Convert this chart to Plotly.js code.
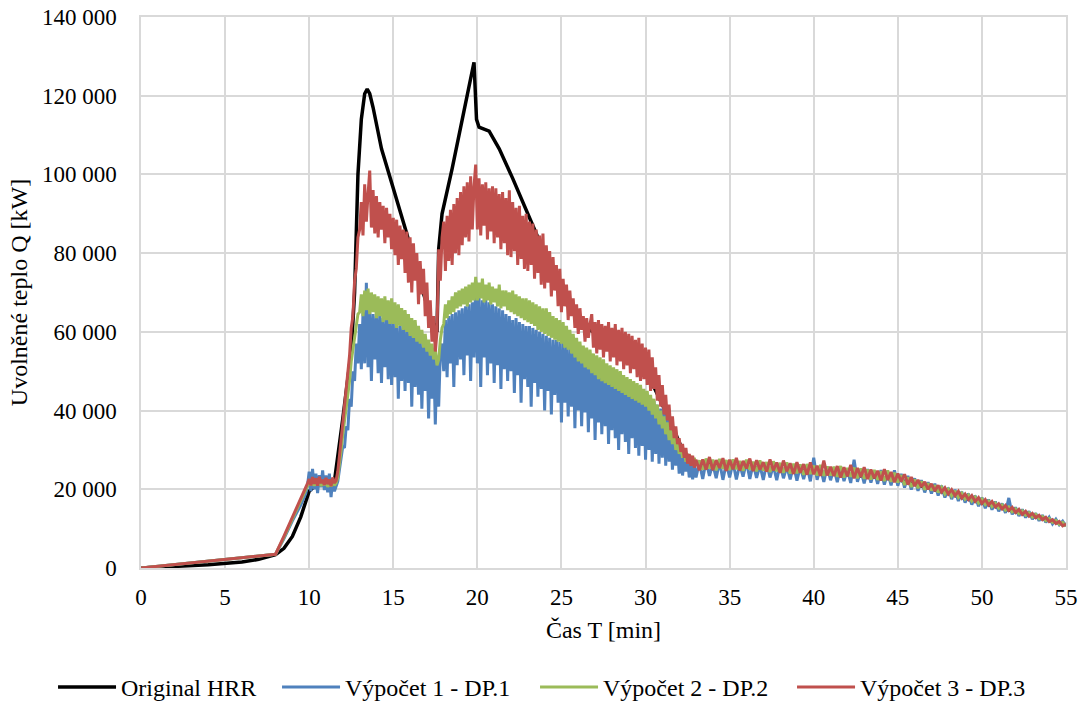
<!DOCTYPE html>
<html>
<head>
<meta charset="utf-8">
<script src="https://cdn.plot.ly/plotly-3.0.1.min.js"></script>
<style>
html,body{margin:0;padding:0;background:#fff;}
#chart{width:1085px;height:722px;}
</style>
</head>
<body>
<div id="chart"></div>
<script>
// Original HRR: time (min) and heat release rate (kW)
const blackT = [0,2,4,6,7,8,8.5,9,9.5,10,10.5,11,11.5,12,12.3,12.5,12.7,12.9,13.1,13.3,13.45,13.6,13.8,14.0,14.3,15.0,15.8,16.5,17.2,17.6,17.7,17.9,18.5,19.2,19.8,19.95,20.1,20.7,21.3,22.1,23.5,24.7,25.3,26.5,28,29.5,30.5,31.5,32.5,35,40,45,50,55];
const blackQ = [0,300,800,1500,2200,3400,5000,8000,13000,19500,21500,22000,22000,38000,48000,55000,70000,100000,114000,120500,121700,120500,117000,113000,106500,96500,85000,74000,64000,60000,81000,90000,101500,116000,128500,114000,112000,111000,106500,99000,85000,72000,67000,61000,57000,52000,46000,37000,27000,26000,24500,22500,16500,11000];

// sampling times (min) shared by the three computed series
const simT = [0,8,8.5,9,9.5,9.8,9.9,
10,10.1,10.2,10.3,10.4,10.5,10.6,10.7,10.8,10.9,
11,11.1,11.2,11.3,11.4,11.5,11.6,11.7,11.8,11.9,
12,12.1,12.2,12.3,12.4,12.5,12.6,12.7,12.8,12.9,
13,13.1,13.2,13.3,13.4,13.5,13.6,13.7,13.8,13.9,
14,14.1,14.2,14.3,14.4,14.5,14.6,14.7,14.8,14.9,
15,15.1,15.2,15.3,15.4,15.5,15.6,15.7,15.8,15.9,
16,16.1,16.2,16.3,16.4,16.5,16.6,16.7,16.8,16.9,
17,17.1,17.2,17.3,17.4,17.5,17.6,17.7,17.8,17.9,
18,18.1,18.2,18.3,18.4,18.5,18.6,18.7,18.8,18.9,
19,19.1,19.2,19.3,19.4,19.5,19.6,19.7,19.8,19.9,
20,20.1,20.2,20.3,20.4,20.5,20.6,20.7,20.8,20.9,
21,21.1,21.2,21.3,21.4,21.5,21.6,21.7,21.8,21.9,
22,22.1,22.2,22.3,22.4,22.5,22.6,22.7,22.8,22.9,
23,23.1,23.2,23.3,23.4,23.5,23.6,23.7,23.8,23.9,
24,24.1,24.2,24.3,24.4,24.5,24.6,24.7,24.8,24.9,
25,25.1,25.2,25.3,25.4,25.5,25.6,25.7,25.8,25.9,
26,26.1,26.2,26.3,26.4,26.5,26.6,26.7,26.8,26.9,
27,27.1,27.2,27.3,27.4,27.5,27.6,27.7,27.8,27.9,
28,28.1,28.2,28.3,28.4,28.5,28.6,28.7,28.8,28.9,
29,29.1,29.2,29.3,29.4,29.5,29.6,29.7,29.8,29.9,
30,30.1,30.2,30.3,30.4,30.5,30.6,30.7,30.8,30.9,
31,31.1,31.2,31.3,31.4,31.5,31.6,31.7,31.8,31.9,
32,32.1,32.2,32.3,32.4,32.5,32.6,32.7,32.8,32.9,
33,
33.2,33.4,33.6,33.8,34,34.2,34.4,34.6,34.8,35,
35.2,35.4,35.6,35.8,36,36.2,36.4,36.6,36.8,37,
37.2,37.4,37.6,37.8,38,38.2,38.4,38.6,38.8,39,
39.2,39.4,39.6,39.8,40,40.2,40.4,40.6,40.8,41,
41.2,41.4,41.6,41.8,42,42.2,42.4,42.6,42.8,43,
43.2,43.4,43.6,43.8,44,44.2,44.4,44.6,44.8,45,
45.2,45.4,45.6,45.8,46,46.2,46.4,46.6,46.8,47,
47.2,47.4,47.6,47.8,48,48.2,48.4,48.6,48.8,49,
49.2,49.4,49.6,49.8,50,50.2,50.4,50.6,50.8,51,
51.2,51.4,51.6,51.8,52,52.2,52.4,52.6,52.8,53,
53.2,53.4,53.6,53.8,54,54.2,54.4,54.6,54.8,55];

// Výpočet 1 - DP.1, values in MW (= 1000 kW)
const dp1MW = [0,3.5,7.5,12.0,16.0,19.0,21.0,
24.5,19.5,25.2,20.0,24.0,19.0,23.6,20.5,24.8,19.8,
23.5,19.2,24.0,18.0,22.5,19.5,21.0,22.0,25.0,28.0,
31.0,30.5,36.0,35.0,43.0,41.0,50.0,47.5,57.0,52.0,
62.0,50.5,65.0,52.0,72.5,51.0,66.0,47.5,64.5,53.0,
64.0,49.5,65.0,47.0,63.5,51.0,63.0,48.0,64.0,46.5,
62.5,48.5,62.0,43.0,61.5,47.5,62.0,45.0,60.5,47.0,
61.0,41.0,60.0,46.0,59.5,44.0,58.5,40.5,57.5,45.0,
57.0,38.0,56.0,43.0,54.5,36.5,53.0,41.0,55.0,57.0,
50.0,63.0,48.5,64.0,52.0,64.5,46.0,65.0,51.5,65.5,
53.0,66.0,49.0,66.5,54.0,67.0,47.5,67.5,53.5,73.0,
52.0,69.0,46.0,68.0,53.5,68.5,49.0,67.5,52.0,67.0,
47.0,66.5,51.5,66.0,45.5,65.5,50.5,64.5,47.5,64.0,
50.0,63.0,44.5,63.5,49.0,62.5,42.0,62.0,48.0,61.5,
46.0,61.5,41.0,61.0,47.0,60.5,43.5,60.0,45.5,59.5,
40.0,59.0,45.0,58.5,39.0,58.0,44.0,58.0,42.0,57.5,
37.0,57.5,42.0,56.5,38.5,56.0,41.0,55.5,35.5,55.0,
40.0,54.0,36.0,53.5,39.5,53.0,34.5,52.5,38.0,52.0,
32.5,51.5,37.0,51.0,34.0,50.5,36.0,50.0,31.5,49.5,
35.0,49.0,33.0,48.5,30.0,48.0,34.0,48.0,32.0,47.5,
29.0,47.5,33.0,46.5,30.5,46.0,28.5,45.0,31.0,44.5,
27.5,44.0,30.0,43.0,27.0,42.5,29.0,41.5,26.5,40.5,
28.0,42.0,26.0,38.0,27.0,35.0,25.0,33.0,26.0,31.0,
24.0,29.5,23.5,28.0,24.5,27.5,23.0,27.0,22.5,26.5,
23.0,
26.8,22.6,27.2,23.4,26.4,22.8,27.0,22.4,26.6,23.0,
26.9,22.5,26.3,23.2,27.1,22.6,26.5,22.9,26.2,22.4,
26.6,23.0,26.0,22.3,26.4,22.8,25.8,22.5,26.1,22.2,
25.7,22.6,26.0,22.0,28.0,22.4,25.5,21.9,25.8,22.3,
25.3,21.8,25.6,22.1,25.0,21.6,27.5,21.9,24.8,21.5,
25.1,21.7,24.6,21.4,24.9,21.2,24.3,21.0,24.8,20.9,
23.9,20.4,23.4,19.9,22.8,19.6,22.3,19.2,21.8,18.9,
21.4,18.4,20.9,17.9,20.4,17.5,19.9,17.0,19.4,16.6,
18.9,16.1,18.4,15.7,17.9,15.2,17.4,14.8,16.9,14.4,
16.4,14.0,17.8,13.6,15.4,13.2,14.9,12.8,14.4,12.4,
13.9,12.0,13.4,11.6,12.9,11.2,12.4,11.0,11.9,10.6];

// Výpočet 2 - DP.2, values in MW
const dp2MW = [0,3.5,7.8,12.4,16.8,19.6,20.8,
21.8,21.0,22.4,20.9,22.0,21.2,22.5,20.8,21.9,21.0,
22.2,20.6,21.8,20.7,22.1,21.0,21.6,23.0,26.0,30.0,
34.0,37.5,40.0,44.5,47.5,52.5,55.5,59.5,61.5,64.5,
65.0,69.5,64.0,70.5,65.5,71.0,64.5,70.0,65.0,69.5,
63.5,69.0,64.0,68.5,62.5,69.0,63.0,68.0,62.0,68.5,
62.0,67.5,61.0,67.0,61.5,66.0,60.5,65.5,60.0,64.5,
59.0,63.5,58.5,63.0,57.5,61.5,57.0,60.5,56.0,59.5,
55.0,58.0,54.0,57.0,53.0,55.5,51.5,53.0,58.0,61.0,
62.0,67.0,63.5,68.0,64.5,69.0,65.0,70.0,66.0,70.5,
66.5,71.0,67.0,71.5,66.5,72.0,67.5,72.5,68.0,74.0,
68.0,72.5,68.5,73.5,67.5,72.0,68.0,72.5,67.0,71.5,
67.5,71.0,66.5,72.0,66.0,70.5,66.5,70.5,65.5,70.0,
65.0,70.5,64.5,69.5,64.0,69.0,63.5,68.5,63.0,68.5,
62.5,68.0,62.0,67.5,61.5,67.0,60.5,66.5,60.0,66.0,
59.5,66.0,59.0,65.0,58.5,64.0,58.0,63.5,57.5,63.0,
57.0,62.5,56.0,61.5,55.5,60.5,54.5,59.5,53.5,58.5,
52.5,57.5,52.0,56.5,51.0,56.0,50.5,55.5,49.5,54.5,
49.0,54.0,48.0,53.5,47.5,53.0,47.0,52.0,46.5,51.5,
46.0,51.0,45.5,50.5,45.0,50.0,44.5,49.0,44.0,48.5,
43.5,48.0,43.0,47.5,42.5,47.0,42.0,46.5,41.5,45.5,
41.0,45.0,40.0,44.0,39.0,43.0,38.0,41.5,36.5,40.0,
35.5,38.5,34.0,37.0,32.5,35.5,31.5,34.0,30.0,32.5,
29.0,31.0,28.0,30.0,27.0,29.0,26.5,28.5,26.0,28.0,
26.0,
27.3,25.0,27.8,25.3,27.5,24.8,27.7,25.2,27.4,24.9,
27.6,25.1,27.2,24.7,27.5,25.0,27.0,24.6,27.3,24.8,
26.9,24.4,27.1,24.6,26.7,24.2,26.8,24.0,26.5,24.1,
26.3,23.7,26.4,23.9,26.0,23.5,26.2,23.4,25.8,23.5,
25.7,23.2,25.9,23.0,25.4,23.2,25.5,22.8,25.3,22.7,
25.0,22.5,24.9,22.4,24.6,22.1,24.8,21.9,24.2,21.7,
23.6,21.1,23.0,20.6,22.5,20.3,22.0,19.9,21.5,19.7,
21.0,19.2,20.5,18.8,20.0,18.3,19.6,17.9,19.0,17.5,
18.5,17.0,18.0,16.5,17.5,16.1,17.0,15.6,16.5,15.2,
16.0,14.7,15.5,14.3,15.0,13.8,14.5,13.4,14.0,12.9,
13.6,12.5,13.1,12.0,12.6,11.6,12.1,11.1,11.6,10.6];

// Výpočet 3 - DP.3, values in MW
const dp3MW = [0,3.5,8.1,12.8,17.3,20.2,21.5,
22.6,21.0,23.1,21.4,22.8,20.9,23.2,21.6,22.4,21.1,
22.9,21.3,22.5,20.8,23.0,21.6,22.2,24.5,28.5,33.0,
38.0,42.5,45.5,51.0,54.0,61.0,64.0,73.0,76.0,84.0,
86.0,93.0,84.5,97.5,88.0,95.0,101.0,86.5,96.0,85.0,
94.5,84.0,93.0,86.0,92.0,82.5,91.5,84.0,90.0,81.0,
89.0,79.5,88.5,77.0,87.0,78.5,86.0,75.0,85.5,72.5,
84.0,70.0,82.5,73.0,80.0,67.0,78.0,69.5,76.0,64.0,
72.5,61.0,68.0,57.5,64.0,55.0,60.0,81.0,73.0,84.0,
88.0,75.5,89.5,78.0,91.0,77.0,92.5,80.0,94.0,79.5,
95.5,82.0,97.0,84.0,98.0,83.0,99.5,86.0,97.0,102.5,
86.0,99.0,84.5,97.5,87.0,98.0,83.5,96.5,85.5,97.0,
82.5,96.5,84.0,95.0,81.0,95.5,82.5,94.0,79.5,96.0,
79.0,93.0,80.5,91.5,77.0,92.0,78.5,89.5,76.0,90.0,
75.5,88.0,77.0,87.5,73.5,86.0,75.0,84.5,72.0,85.0,
71.0,82.0,72.5,80.5,69.0,79.0,70.5,77.0,66.5,76.0,
65.0,73.5,66.5,72.0,63.0,70.5,64.0,68.5,61.0,67.0,
59.5,66.0,60.5,64.0,57.5,63.5,58.5,62.0,64.5,56.0,
62.5,54.5,63.0,55.5,62.0,53.5,61.5,55.0,62.5,52.5,
61.0,53.5,62.0,51.5,60.5,52.5,61.0,50.5,60.0,51.5,
59.5,49.5,59.0,50.5,58.0,48.5,58.5,47.5,57.0,48.0,
56.0,46.5,55.5,45.0,53.5,45.5,51.0,42.5,49.0,41.0,
46.5,39.0,44.0,37.5,41.5,35.0,38.5,33.0,36.0,31.5,
33.0,29.5,31.5,28.0,30.5,26.5,29.0,26.0,28.5,25.5,
27.5,
24.8,27.6,25.0,28.2,24.9,27.4,25.4,27.9,24.7,27.5,
25.1,28.0,24.8,27.2,25.3,27.8,24.6,27.4,25.0,26.9,
24.5,27.6,24.8,26.8,24.2,27.3,24.6,26.6,23.9,26.9,
24.2,26.4,23.7,26.8,23.8,26.0,23.4,27.3,23.5,25.7,
23.4,25.9,23.0,25.6,23.3,26.2,22.8,25.4,23.1,25.6,
22.6,25.0,22.8,24.7,22.2,25.1,22.4,24.4,21.8,24.0,
22.0,23.8,21.2,23.1,20.8,22.4,20.6,21.9,20.0,21.4,
19.6,21.0,19.3,20.4,18.8,19.9,18.4,19.5,17.8,18.8,
17.4,18.4,16.9,17.9,16.4,17.4,16.0,16.9,15.5,16.3,
15.0,15.9,14.6,15.4,14.1,14.9,13.6,14.4,13.2,13.9,
12.8,13.4,12.3,12.9,11.8,12.3,11.3,11.8,10.7,11.2];

const seriesNames = ['Original HRR', 'Výpočet 1 - DP.1', 'Výpočet 2 - DP.2', 'Výpočet 3 - DP.3'];
const seriesColors = ['#000000', '#4F81BD', '#9BBB59', '#C0504D'];

const toKW = arr => arr.map(v => v * 1000);   // unit conversion MW -> kW
const FONT = 'Liberation Serif';

const traces = [
  {x: blackT, y: blackQ, name: seriesNames[0], type: 'scatter', mode: 'lines', legendwidth: 151,
   line: {color: seriesColors[0], width: 3.5}},
  {x: simT, y: toKW(dp1MW), name: seriesNames[1], type: 'scatter', mode: 'lines', legendwidth: 185,
   line: {color: seriesColors[1], width: 3}},
  {x: simT, y: toKW(dp2MW), name: seriesNames[2], type: 'scatter', mode: 'lines', legendwidth: 184,
   line: {color: seriesColors[2], width: 3}},
  {x: simT, y: toKW(dp3MW), name: seriesNames[3], type: 'scatter', mode: 'lines', legendwidth: 165,
   line: {color: seriesColors[3], width: 3}}
];

const layout = {
  width: 1085, height: 722,
  margin: {l: 141, r: 19, t: 17, b: 146},
  paper_bgcolor: '#ffffff', plot_bgcolor: '#ffffff',
  separators: ', ',
  font: {family: FONT, color: '#000000', size: 23},
  showlegend: true,
  legend: {orientation: 'h', xref: 'paper', x: -0.0951, xanchor: 'left',
           yref: 'paper', y: -0.2576, yanchor: 'bottom',
           font: {family: FONT, size: 24, color: '#000'}, itemwidth: 58, traceorder: 'normal'},
  xaxis: {
    range: [0, 55], tick0: 0, dtick: 5, showgrid: true, gridcolor: '#d9d9d9', gridwidth: 1.5,
    zeroline: false, showline: true, linecolor: '#d9d9d9', linewidth: 1.5, mirror: true,
    ticks: '', ticklabelstandoff: 8, automargin: false,
    tickfont: {family: FONT, size: 23, color: '#000'},
    title: {text: 'Čas T [min]', font: {family: FONT, size: 24, color: '#000'}, standoff: 12}
  },
  yaxis: {
    range: [0, 140000], tick0: 0, dtick: 20000, tickformat: ',d',
    showgrid: true, gridcolor: '#d9d9d9', gridwidth: 1.5,
    zeroline: false, showline: true, linecolor: '#d9d9d9', linewidth: 1.5, mirror: true,
    ticks: '', ticklabelstandoff: 18, automargin: false,
    tickfont: {family: FONT, size: 23, color: '#000'},
    title: {text: 'Uvolněné teplo Q [kW]', font: {family: FONT, size: 24, color: '#000'}, standoff: 8}
  }
};

Plotly.newPlot('chart', traces, layout, {displayModeBar: false, responsive: false});
</script>
</body>
</html>
